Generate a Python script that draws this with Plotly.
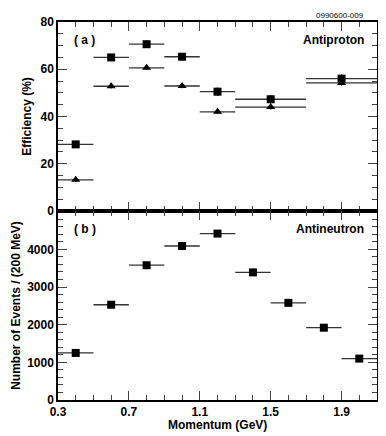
import plotly.graph_objects as go
from plotly.subplots import make_subplots

# (a) antiproton efficiency, two selections
p_centers = [0.4, 0.6, 0.8, 1.0, 1.2, 1.5, 1.9]
p_halfwidth = [0.1, 0.1, 0.1, 0.1, 0.1, 0.2, 0.2]
eff_square = [28.2, 65.0, 70.6, 65.3, 50.5, 47.3, 56.0]
eff_square_err = [1.2, 1.5, 1.6, 1.5, 1.8, 1.8, 1.9]
eff_triangle = [13.2, 52.8, 60.6, 52.9, 42.0, 44.0, 54.2]
eff_triangle_err = [0.8, 0.9, 0.9, 0.9, 1.0, 1.0, 1.2]

# (b) antineutron yield per 200 MeV
n_centers = [0.4, 0.6, 0.8, 1.0, 1.2, 1.4, 1.6, 1.8, 2.0]
n_halfwidth = [0.1] * 9
n_events = [1250, 2530, 3580, 4090, 4420, 3390, 2580, 1920, 1100]
n_events_err = [35, 50, 60, 64, 66, 58, 51, 44, 33]

x_ticks = [0.3, 0.7, 1.1, 1.5, 1.9]
eff_ticks = [0, 20, 40, 60, 80]
evt_ticks = [0, 1000, 2000, 3000, 4000]

FONT = "Liberation Sans, Arial, sans-serif"
BLACK = "#000000"

fig = make_subplots(rows=2, cols=1, shared_xaxes=True, vertical_spacing=0)


def add_points(x, xerr, y, yerr, symbol, size, row):
    fig.add_trace(go.Scatter(
        x=x, y=y, mode="markers",
        marker=dict(symbol=symbol, size=size, color=BLACK),
        error_x=dict(type="data", array=xerr, width=0, thickness=1.3, color="#333333"),
        error_y=dict(type="data", array=yerr, width=0, thickness=1.3, color="#333333"),
        showlegend=False,
    ), row=row, col=1)


add_points(p_centers, p_halfwidth, eff_square, eff_square_err, "square", 8, 1)
add_points(p_centers, p_halfwidth, eff_triangle, eff_triangle_err, "triangle-up", 8, 1)
add_points(n_centers, n_halfwidth, n_events, n_events_err, "square", 8, 2)

bold12 = dict(family=FONT, size=12, color=BLACK, weight="bold")

axis_common = dict(
    showline=True, linecolor=BLACK, linewidth=1.5, mirror="allticks",
    ticks="inside", ticklen=9, tickwidth=1.3, tickcolor="#444444",
    showgrid=False, zeroline=False,
    tickfont=bold12,
)

fig.update_xaxes(
    range=[0.3, 2.1], tickvals=x_ticks, ticktext=[f"{v:.1f}" for v in x_ticks],
    minor=dict(ticks="inside", ticklen=5, dtick=0.1, tick0=0.3, tickcolor="#444444", tickwidth=1.2),
    **axis_common,
)
fig.update_yaxes(
    range=[0, 80], tickvals=eff_ticks,
    minor=dict(ticks="inside", ticklen=5, dtick=5, tickcolor="#444444", tickwidth=1.2),
    title=dict(text="Efficiency (%)", font=bold12, standoff=6),
    row=1, col=1, **axis_common,
)
fig.update_yaxes(
    range=[0, 5020], tickvals=evt_ticks,
    minor=dict(ticks="inside", ticklen=5, dtick=200, tickcolor="#444444", tickwidth=1.2),
    title=dict(text="Number of Events / (200 MeV)", font=bold12, standoff=4),
    row=2, col=1, **axis_common,
)

fig.add_annotation(text="Momentum (GeV)", x=0.5, y=-0.065, xref="paper", yref="paper",
                   xanchor="center", yanchor="middle", showarrow=False, font=bold12)
fig.add_annotation(text="( a )", x=0.045, y=0.975, xref="paper", yref="paper",
                   xanchor="left", yanchor="top", showarrow=False, font=bold12)
fig.add_annotation(text="Antiproton", x=0.965, y=0.975, xref="paper", yref="paper",
                   xanchor="right", yanchor="top", showarrow=False, font=bold12)
fig.add_annotation(text="( b )", x=0.045, y=0.475, xref="paper", yref="paper",
                   xanchor="left", yanchor="top", showarrow=False, font=bold12)
fig.add_annotation(text="Antineutron", x=0.965, y=0.475, xref="paper", yref="paper",
                   xanchor="right", yanchor="top", showarrow=False, font=bold12)
fig.add_annotation(text="0990600-009", x=0.965, y=1.0, xref="paper", yref="paper",
                   xanchor="right", yanchor="bottom", showarrow=False,
                   font=dict(family=FONT, size=8, color=BLACK))

# the page body adds an 8px offset, so the figure is 8px smaller than the window
fig.update_layout(
    width=378, height=428,
    margin=dict(l=45, r=9, t=7, b=36),
    paper_bgcolor="white", plot_bgcolor="white",
    font=dict(family=FONT, color=BLACK),
)

fig.write_html("out.html")
